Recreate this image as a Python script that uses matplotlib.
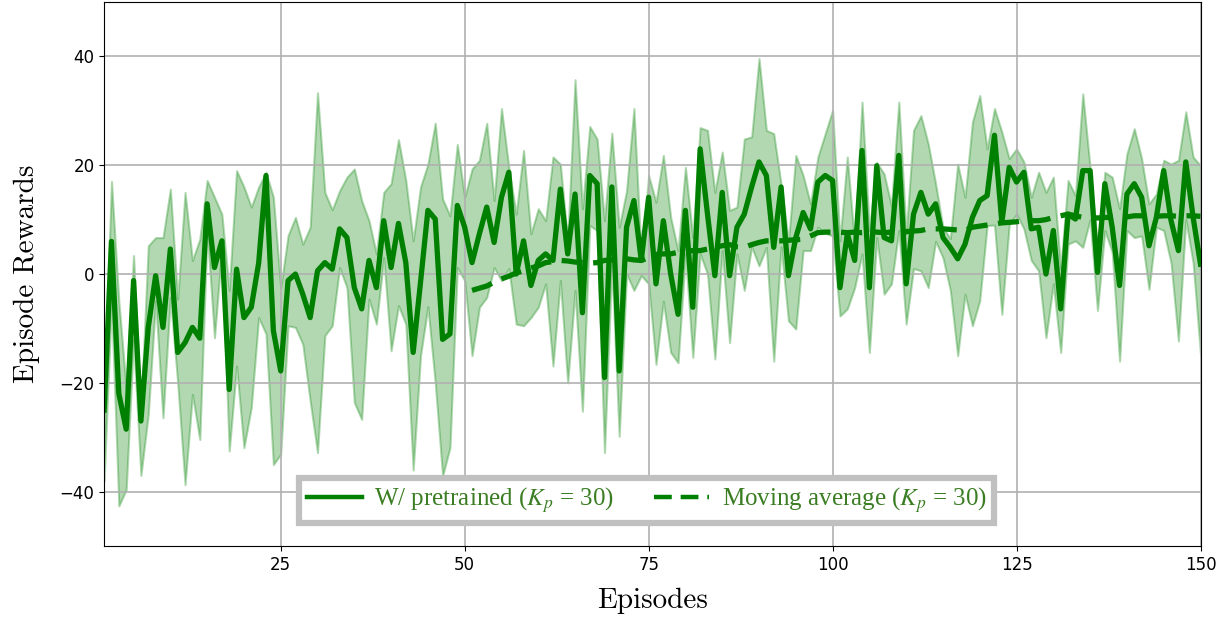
import numpy as np
import matplotlib
matplotlib.use("Agg")
import matplotlib.pyplot as plt

plt.rcParams['mathtext.fontset'] = 'stix'

# Rewards per episode
episodes = np.arange(1, 151)
reward_mean = [
    -25, 6, -22, -28.5, -1.2, -27, -9.8, -0.3, -9.8, 4.6,
    -14.4, -12.6, -9.8, -11.8, 12.9, 1.2, 6.1, -21.2, 0.9, -8,
    -6.1, 2, 18.1, -10.4, -17.8, -1.2, 0, -3.7, -8, 0.6,
    2.1, 0.9, 8.3, 6.7, -2.5, -6.4, 2.5, -2.5, 9.8, 1.2,
    9.3, 2.1, -14.4, -1.5, 11.7, 10.1, -12, -11, 12.6, 8.6,
    2.1, 7.4, 12.3, 5.8, 14.1, 18.7, 0, 6.1, -2.1, 2.5,
    3.7, 2.5, 15.6, 3.7, 14.7, -7.1, 18.1, 16.6, -19, 16,
    -17.8, 8.6, 13.5, 2.5, 14.1, -1.8, 9.8, 0, -7.4, 11.7,
    -6.1, 23, 11, -0.3, 15, -0.3, 8.6, 11, 16, 20.6,
    18.1, 4.9, 16, -0.3, 6.7, 11.3, 8.3, 16.9, 18.1, 17.2,
    -2.5, 7.4, 2.5, 22.7, -2.5, 19.9, 6.7, 6.1, 21.8, -1.8,
    11, 15, 11, 12.9, 6.7, 4.9, 2.8, 5.5, 10.4, 13.5,
    14.4, 25.5, 9.5, 19.6, 16.9, 18.7, 8.3, 8.6, 0, 8,
    -6.4, 11, 10.1, 19, 19, 0.3, 16.6, 8.6, -2.1, 14.7,
    16.6, 14.1, 5.2, 10.4, 19, 9.8, 4.3, 20.6, 10.4, 1.8,
]
reward_upper = [
    -22, 17, -5, -21, 3.4, -25, 5.2, 6.7, 6.7, 15.6,
    -4.6, 15, 2.5, 6.4, 17.2, 14.1, 11, -3, 19, 16,
    12.3, 16, 18.7, 14.1, -2.5, 7.1, 10.4, 5.5, 8.6, 33.3,
    15, 11.8, 15.3, 17.8, 19.3, 13.5, 9.8, 3.7, 15, 16.6,
    24.7, 17.2, 6.1, 16, 20.2, 27.7, 13.8, 10.7, 23.8, 14.1,
    19.3, 20.9, 27.7, 13.5, 30.4, 19.6, 11, 22.7, 7.4, 12,
    9.8, 21.5, 20.2, 6.1, 35.7, 12, 27.1, 24.8, 9.8, 25.9,
    8.6, 15.3, 30.4, 3, 18.1, 13.2, 21.8, 10.4, 4.3, 19.6,
    6.7, 26.9, 26.4, 15, 22.4, 11.7, 12.3, 24.8, 25.2, 39.6,
    26.4, 25.8, 16.5, 6, 21.8, 18.1, 12.9, 21.5, 25.8, 30.1,
    6.1, 21.5, 5.5, 31.6, 8, 20.5, 18.4, 12.5, 31.6, 7.4,
    26.4, 29.1, 23.9, 16.6, 8.6, 6.5, 20.2, 14.1, 27.9, 32.8,
    23, 30.4, 26.1, 21.2, 23, 20.6, 14.1, 18.7, 15, 17.8,
    1, 17.2, 14.4, 33.1, 19.5, 5, 18.7, 17.8, 12, 22.1,
    26.7, 21.2, 12.9, 14.7, 20.9, 20.2, 20.9, 29.8, 21.5, 19.9,
]
reward_lower = [
    -38, -5, -42.6, -39.6, -12, -37, -25.8, -4.9, -26.4, -4.3,
    -20, -38.7, -22.1, -30.4, 8, -11.7, 4.9, -32.5, -16.9, -31.9,
    -24.5, -8, -11, -35, -33.1, -9.5, -9.8, -12.9, -23.3, -32.8,
    -11.3, -9.5, 1.2, -2.5, -23.6, -26.7, -4.6, -9.2, 3, -14.1,
    -5.8, -9.2, -36, -15, -6, -20, -37.1, -31.9, 1.2, -1.2,
    -15, -6.1, -4.3, 1.2, -1.2, 1, -9.2, -9.5, -8, -6.1,
    -1.8, -16.9, -1.2, -20, -3, -25.2, 8.9, 8, -32.8, 2,
    -29.8, 0, -3, -0.3, -1.8, -16.6, -5, -14.4, -16.3, 3.7,
    -15.3, 3.7, 0, -15.6, 4.3, -12.6, 3.7, -3, 5, 1.5,
    4.9, -16, 5, -8.6, -10.1, 4.3, 4.3, 8.6, 7.5, 7,
    -7.7, -6.4, -2.5, 3.7, -14.4, 6.7, -3.7, -1.8, 8, -9.2,
    1, 0.6, -2.5, 6, 3, -3, -15, -3.7, -9.5, -4.9,
    8.9, 9, -7.4, 9, 11, 8.3, 2.5, 0.6, -11.7, -1.8,
    -14.4, 5.5, 6.1, 4.9, 10, -6.7, 8, 4, -16, 8,
    6.7, 7, -2.8, 8.6, 8, 2, -12.3, 10, 2, -14.7,
]

# Moving average, episodes 51..150
ma_episodes = np.arange(51, 151)
moving_avg = [
    -3.0, -2.6, -2.2, -1.5, -0.9, -0.4, 0.2, 0.6, 1.1, 1.5,
    2.1, 2.3, 2.5, 2.4, 2.2, 2.1, 2.0, 2.1, 2.5, 2.6,
    2.7, 2.8, 2.6, 2.5, 3.0, 3.6, 3.7, 3.7, 4.0, 4.3,
    4.3, 4.3, 4.6, 4.9, 5.2, 5.4, 5.0, 4.9, 5.4, 5.8,
    6.1, 6.1, 6.1, 6.2, 6.3, 6.4, 7.0, 7.6, 7.7, 7.7,
    7.7, 7.6, 7.7, 7.6, 7.7, 7.7, 7.6, 7.7, 7.7, 7.8,
    7.9, 8.0, 8.3, 8.3, 8.3, 8.2, 8.1, 8.0, 8.6, 8.8,
    9.0, 9.2, 9.4, 9.5, 9.6, 9.8, 9.8, 9.8, 10.0, 10.4,
    10.7, 11.0, 10.7, 10.4, 10.4, 10.3, 10.4, 10.4, 10.4, 10.5,
    10.7, 10.7, 10.7, 10.6, 10.7, 10.7, 10.6, 10.7, 10.7, 10.6,
]

fig = plt.figure(figsize=(12.25, 6.2), dpi=100)
ax = fig.add_axes([0.085, 0.119, 0.895, 0.878])

ax.fill_between(episodes, reward_lower, reward_upper, color='green', alpha=0.3, linewidth=1.5)
ax.plot(episodes, reward_mean, color='green', linewidth=3.8, label=r'W/ pretrained ($K_p$ = 30)')
ax.plot(ma_episodes, moving_avg, color='green', linewidth=3.8, linestyle=(0, (4, 2)),
        label=r'Moving average ($K_p$ = 30)')

ax.set_xlim(1, 150)
ax.set_ylim(-50, 50)
ax.set_xticks([25, 50, 75, 100, 125, 150])
ax.set_yticks([-40, -20, 0, 20, 40])
ax.tick_params(labelsize=12)
ax.grid(True, color='#b0b0b0', linewidth=1.2)

ax.set_xlabel('Episodes', fontfamily='cmr10', fontsize=21, labelpad=10)
ax.set_ylabel('Episode Rewards', fontfamily='cmr10', fontsize=21, labelpad=14)

leg = ax.legend(loc='lower center', bbox_to_anchor=(0.495, 0.02), ncol=2,
                fancybox=False, framealpha=1, edgecolor='#c0c0c0',
                prop={'family': 'Liberation Serif', 'size': 18},
                handlelength=2.2, handletextpad=0.5, columnspacing=1.6, borderpad=0.3)
leg.get_frame().set_linewidth(4.5)
for t in leg.get_texts():
    t.set_color('#3b7d23')
for h in leg.get_lines():
    h.set_linewidth(3.2)

fig.savefig('out.png', dpi=100)
